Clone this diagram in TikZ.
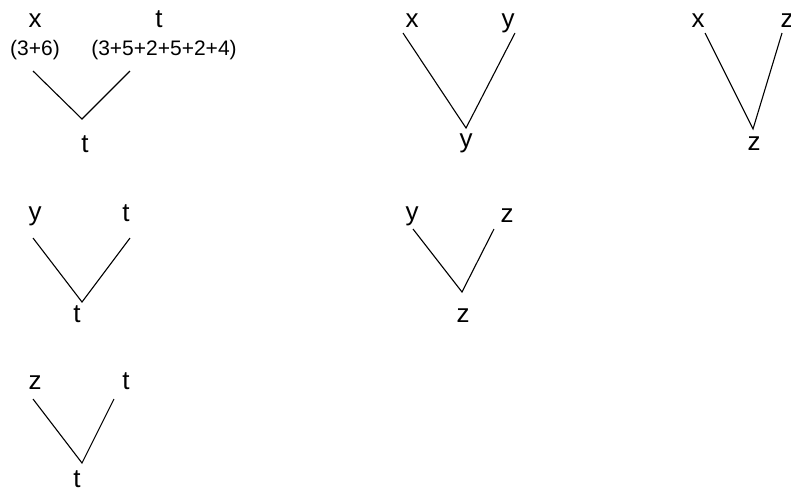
\documentclass[tikz,border=0pt]{standalone}
\usepackage{fontspec}
\setmainfont{Liberation Sans}
\begin{document}
\begin{tikzpicture}[x=1pt,y=-1pt,
  lbl/.style={anchor=base,inner sep=0pt,font=\fontsize{26}{28}\selectfont},
  sub/.style={anchor=base,inner sep=0pt,font=\fontsize{21}{24}\selectfont},
  edge/.style={draw=black,line width=1.1pt}]
\useasboundingbox (0,0) rectangle (791,491);
% tree 1
\node[lbl] (a1) at (35,27) {x};
\node[sub] (a1s) at (35,55) {(3+6)};
\node[lbl] (a2) at (159,27) {t};
\node[sub] (a2s) at (164,55) {(3+5+2+5+2+4)};
\node[lbl] (a3) at (85,152) {t};
\coordinate (a1e) at (33,71);
\coordinate (a3e) at (82,119);
\coordinate (a2e) at (130,71);
\draw[edge] (a1e) -- (a3e) -- (a2e);
% tree 2
\node[lbl] (b1) at (412,27) {x};
\node[lbl] (b2) at (508,27) {y};
\node[lbl] (b3) at (466,147) {y};
\coordinate (b1e) at (403,33);
\coordinate (b3e) at (466,128);
\coordinate (b2e) at (515,33);
\draw[edge] (b1e) -- (b3e) -- (b2e);
% tree 3
\node[lbl] (c1) at (698,27) {x};
\node[lbl] (c2) at (787,27) {z};
\node[lbl] (c3) at (754,150) {z};
\coordinate (c1e) at (705,33);
\coordinate (c3e) at (753,129);
\coordinate (c2e) at (782,33);
\draw[edge] (c1e) -- (c3e) -- (c2e);
% tree 4
\node[lbl] (d1) at (35,220) {y};
\node[lbl] (d2) at (126,221) {t};
\node[lbl] (d3) at (77,322) {t};
\coordinate (d1e) at (33,238);
\coordinate (d3e) at (82,302);
\coordinate (d2e) at (130,238);
\draw[edge] (d1e) -- (d3e) -- (d2e);
% tree 5
\node[lbl] (e1) at (35,389) {z};
\node[lbl] (e2) at (126,389) {t};
\node[lbl] (e3) at (77,487) {t};
\coordinate (e1e) at (33,399);
\coordinate (e3e) at (82,463);
\coordinate (e2e) at (114,399);
\draw[edge] (e1e) -- (e3e) -- (e2e);
% tree 6
\node[lbl] (f1) at (412,220) {y};
\node[lbl] (f2) at (507,222) {z};
\node[lbl] (f3) at (463,322) {z};
\coordinate (f1e) at (413,229);
\coordinate (f3e) at (462,292);
\coordinate (f2e) at (494,229);
\draw[edge] (f1e) -- (f3e) -- (f2e);
\end{tikzpicture}
\end{document}
